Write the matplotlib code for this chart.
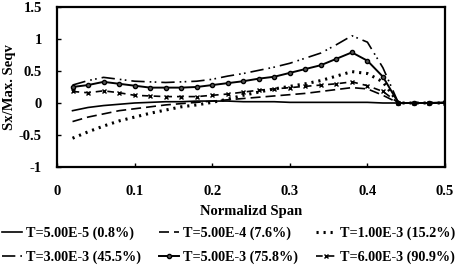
import numpy as np
import matplotlib
matplotlib.use('Agg')
import matplotlib.pyplot as plt

###############################################################################

span=[0.02,0.04,0.06,0.08,0.10,0.12,0.14,0.16,0.18,0.20,0.22,0.24,0.26,
      0.28,0.30,0.32,0.34,0.36,0.38,0.40,0.42,0.44,0.46,0.48,0.50]

s1=[-0.12,-0.07,-0.04,-0.02,0.00,0.01,0.02,0.02,0.03,0.03,0.03,0.02,0.02,
    0.02,0.01,0.01,0.01,0.01,0.01,0.01,0.00,0.00,0.00,0.00,0.00]
s2=[-0.29,-0.22,-0.17,-0.12,-0.09,-0.06,-0.03,-0.01,0.01,0.03,0.05,0.07,0.09,
    0.11,0.13,0.15,0.18,0.21,0.24,0.22,0.12,0.00,0.00,0.00,0.00]
s3=[-0.55,-0.45,-0.36,-0.28,-0.22,-0.16,-0.11,-0.06,-0.03,0.01,0.06,0.12,0.17,
    0.22,0.26,0.30,0.35,0.42,0.49,0.46,0.33,0.00,0.00,0.00,0.00]
s4=[0.28,0.35,0.40,0.37,0.34,0.33,0.32,0.33,0.34,0.37,0.42,0.46,0.51,
    0.56,0.62,0.70,0.78,0.91,1.05,0.95,0.55,0.00,0.00,0.00,0.00]
s5=[0.25,0.28,0.33,0.30,0.27,0.24,0.24,0.24,0.25,0.28,0.31,0.34,0.38,
    0.41,0.47,0.53,0.59,0.69,0.79,0.66,0.41,0.00,0.00,0.00,0.01]
s6=[0.18,0.16,0.19,0.16,0.12,0.11,0.10,0.10,0.10,0.12,0.14,0.17,0.20,
    0.22,0.24,0.26,0.28,0.30,0.33,0.27,0.18,0.00,0.00,0.00,0.00]

labels=['T=5.00E-5 (0.8%)','T=5.00E-4 (7.6%)','T=1.00E-3 (15.2%)',
        'T=3.00E-3 (45.5%)','T=5.00E-3 (75.8%)','T=6.00E-3 (90.9%)']

xticks=[0,0.1,0.2,0.3,0.4,0.5]
xticklabels=['0','0.1','0.2','0.3','0.4','0.5']
yticks=[-1,-0.5,0,0.5,1,1.5]
yticklabels=['-1','-0.5','0','0.5','1','1.5']

###############################################################################

plt.rcParams['font.family']='Liberation Serif'
plt.rcParams['font.weight']='bold'

fig=plt.figure(figsize=(4.65,2.66),dpi=100)
ax=fig.add_axes([0.1226,0.372,0.8344,0.602])

h1,=ax.plot(span,s1,color='black',lw=1.2,ls='-',label=labels[0])
h2,=ax.plot(span,s2,color='black',lw=1.2,ls=(0,(6,3)),label=labels[1])
h3,=ax.plot(span,s3,color='black',lw=2.2,ls=(0,(0.7,1.6)),label=labels[2])
h4,=ax.plot(span,s4,color='black',lw=1.2,ls=(0,(8,3,1,2,1,3)),label=labels[3])
h5,=ax.plot(span,s5,color='black',lw=1.4,ls='-',marker='o',ms=3,
            mfc='#555555',label=labels[4])
h6,=ax.plot(span,s6,color='black',lw=1.2,ls=(0,(4,3)),marker='x',ms=3.5,
            mew=1.0,label=labels[5])

ax.set_xlim(0,0.5)
ax.set_ylim(-1,1.5)
ax.set_xticks(xticks)
ax.set_xticklabels(xticklabels)
ax.set_yticks(yticks)
ax.set_yticklabels(yticklabels)
ax.tick_params(direction='in',length=3,width=1,labelsize=10.5)
ax.tick_params(axis='x',pad=13)
ax.tick_params(axis='y',pad=11)
for sp in ax.spines.values():
    sp.set_linewidth(1.6)

ax.set_xlabel('Normalizd Span',fontsize=10.5,fontweight='bold',labelpad=5)
ax.set_ylabel('Sx/Max. Seqv',fontsize=10.5,fontweight='bold',labelpad=2)

handles=[h1,h4,h2,h5,h3,h6]
fig.legend(handles,[h.get_label() for h in handles],ncol=3,loc='lower left',
           bbox_to_anchor=(0.0,0.0),frameon=False,fontsize=10.2,handlelength=1.4,
           handletextpad=0.3,columnspacing=1.25,labelspacing=0.7,
           borderaxespad=0.0,borderpad=0.15)

fig.savefig('out.png',dpi=100)
